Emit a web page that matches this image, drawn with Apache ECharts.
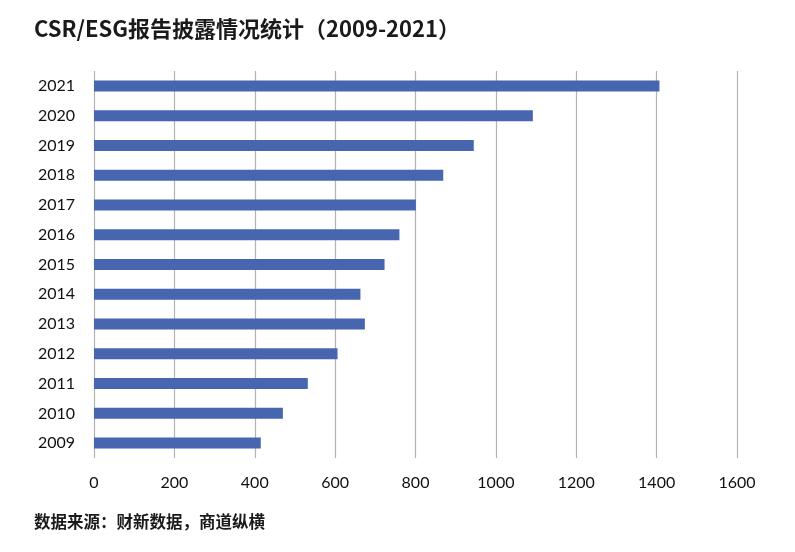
<!DOCTYPE html>
<html><head><meta charset="utf-8">
<script src="https://cdn.jsdelivr.net/npm/echarts@6/dist/echarts.min.js"></script>
<style>html,body{margin:0;padding:0;background:#fff}#c{width:795px;height:552px}</style>
</head><body><div id="c"></div>
<script>
const years = ['2021','2020','2019','2018','2017','2016','2015','2014','2013','2012','2011','2010','2009'];
const reports = [1407,1092,945,869,801,760,723,663,674,606,532,470,415];
const xTicks = [0,200,400,600,800,1000,1200,1400,1600];
const titleText = 'CSR/ESG报告披露情况统计（2009-2021）';
const sourceText = '数据来源：财新数据，商道纵横';

const chart = echarts.init(document.getElementById('c'));
chart.setOption({
  backgroundColor:'#fff',
  animation:false,
  title:[
    {text:titleText,left:29,top:13,textStyle:{fontFamily:'Noto Sans CJK SC, sans-serif',fontSize:22,fontWeight:'bold',color:'#1a1a1a'}},
    {text:sourceText,left:29,top:508,textStyle:{fontFamily:'Noto Sans CJK SC, sans-serif',fontSize:16.5,fontWeight:'bold',color:'#1a1a1a'}}
  ],
  grid:{left:94,right:58,top:71,bottom:94,containLabel:false},
  xAxis:{type:'value',min:xTicks[0],max:xTicks[xTicks.length-1],interval:200,
    axisLine:{show:false},axisTick:{show:false},
    axisLabel:{margin:17,fontFamily:'Lato, sans-serif',fontSize:16,color:'#111',formatter:v=>String(v)},
    splitLine:{show:true,lineStyle:{color:'#b3b3b3',width:1.2}}},
  yAxis:{type:'category',data:years,inverse:true,
    axisLine:{show:false},axisTick:{show:false},
    axisLabel:{margin:19,fontFamily:'Lato, sans-serif',fontSize:16,color:'#111'}},
  series:[{type:'bar',data:reports,barWidth:11,itemStyle:{color:'#4865b0'}}]
});
</script></body></html>
